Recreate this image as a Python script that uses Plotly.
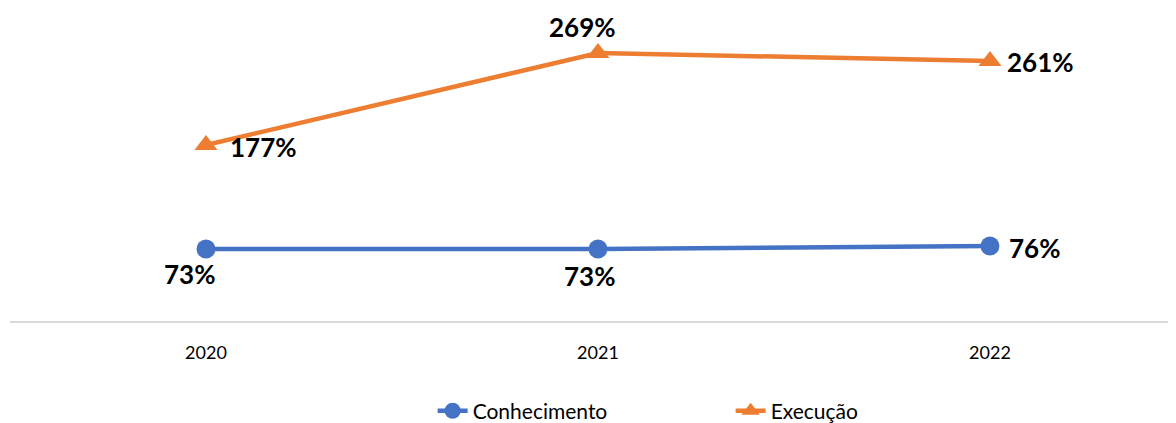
import plotly.graph_objects as go

years = ["2020", "2021", "2022"]
conhecimento = [73, 73, 76]
execucao = [177, 269, 261]
conh_labels = ["73%", "73%", "76%"]
exec_labels = ["177%", "269%", "261%"]

BLUE = "#4472C4"
ORANGE = "#ED7D31"
FONT = "Lato"

xs = list(range(len(years)))

fig = go.Figure()
fig.add_trace(go.Scatter(
    x=xs, y=conhecimento, name="Conhecimento", mode="lines+markers",
    line=dict(color=BLUE, width=4.5),
    marker=dict(symbol="circle", size=19, color=BLUE),
))
fig.add_trace(go.Scatter(
    x=xs, y=execucao, name="Execução", mode="lines+markers",
    line=dict(color=ORANGE, width=4.5),
    marker=dict(symbol="triangle-up", size=20, color=ORANGE),
))

# label offsets (styling only)
conh_off = [(-16, -25), (-8, -27), (45, -2)]
exec_off = [(58, -2), (-15, 26), (51, -1)]
for i, (x, y, t) in enumerate(zip(xs, conhecimento, conh_labels)):
    fig.add_annotation(x=x, y=y, text=t, showarrow=False,
                       xshift=conh_off[i][0], yshift=conh_off[i][1],
                       font=dict(family=FONT, size=26, color="black", weight="bold"))
for i, (x, y, t) in enumerate(zip(xs, execucao, exec_labels)):
    fig.add_annotation(x=x, y=y, text=t, showarrow=False,
                       xshift=exec_off[i][0], yshift=exec_off[i][1],
                       font=dict(family=FONT, size=26, color="black", weight="bold"))

fig.update_layout(
    width=1176, height=423,
    margin=dict(l=2, r=0, t=14, b=109, autoexpand=False),
    paper_bgcolor="white", plot_bgcolor="white",
    showlegend=True,
    legend=dict(orientation="h", x=0.36, y=-0.297, xanchor="left", yanchor="middle",
                font=dict(family=FONT, size=21, color="black"),
                entrywidth=253, entrywidthmode="pixels"),
    font=dict(family=FONT),
)
fig.update_xaxes(
    range=[-0.5, 2.495], tickmode="array", tickvals=xs, ticktext=years,
    showgrid=False, zeroline=False, showline=False,
    tickfont=dict(family=FONT, size=18, color="black"), ticks="",
    ticklabelstandoff=18,
)
fig.update_yaxes(
    range=[0, 300], showgrid=False, zeroline=True, zerolinecolor="#D9D9D9",
    zerolinewidth=1.5, showticklabels=False, showline=False,
)

fig.write_html("out.html")
